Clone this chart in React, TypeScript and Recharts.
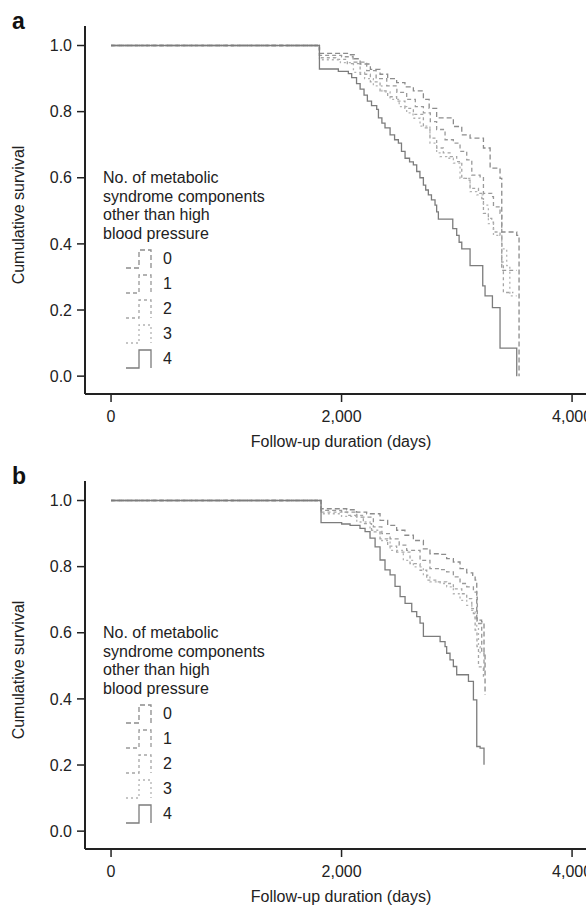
import React from "react"
import { LineChart, Line, XAxis, YAxis } from "recharts"

// Kaplan-Meier steps: [follow-up days, cumulative survival]
// panel a
const a0 = [[0, 1], [1808, 0.976], [2059, 0.972], [2110, 0.96], [2161, 0.944], [2250, 0.928], [2334, 0.913], [2400, 0.9], [2478, 0.888], [2550, 0.875], [2623, 0.863], [2710, 0.837], [2760, 0.81], [2825, 0.781], [2970, 0.755], [3043, 0.73], [3115, 0.72], [3231, 0.69], [3289, 0.629], [3375, 0.598], [3390, 0.436], [3520, 0.426], [3540, 0]]
const a1 = [[0, 1], [1808, 0.97], [2000, 0.966], [2100, 0.95], [2218, 0.924], [2300, 0.9], [2392, 0.878], [2480, 0.858], [2565, 0.837], [2640, 0.815], [2710, 0.796], [2770, 0.77], [2825, 0.746], [2898, 0.715], [2970, 0.705], [3028, 0.68], [3086, 0.654], [3130, 0.608], [3202, 0.603], [3231, 0.553], [3303, 0.543], [3318, 0.512], [3375, 0.492], [3390, 0.32], [3520, 0.32]]
const a2 = [[0, 1], [1808, 0.963], [1950, 0.958], [2050, 0.945], [2161, 0.913], [2250, 0.89], [2334, 0.863], [2400, 0.845], [2478, 0.832], [2550, 0.81], [2623, 0.792], [2710, 0.751], [2767, 0.72], [2825, 0.69], [2883, 0.675], [2941, 0.664], [2999, 0.649], [3043, 0.598], [3101, 0.593], [3115, 0.568], [3188, 0.553], [3217, 0.537], [3231, 0.492], [3274, 0.477], [3303, 0.466], [3318, 0.436], [3375, 0.426], [3390, 0.345], [3404, 0.253], [3491, 0.253]]
const a3 = [[0, 1], [1808, 0.957], [1990, 0.948], [2103, 0.919], [2200, 0.9], [2276, 0.878], [2350, 0.86], [2421, 0.837], [2500, 0.815], [2565, 0.796], [2620, 0.78], [2681, 0.756], [2767, 0.705], [2825, 0.675], [2854, 0.664], [2912, 0.659], [2970, 0.644], [3028, 0.598], [3115, 0.558], [3173, 0.548], [3231, 0.517], [3274, 0.461], [3318, 0.426], [3390, 0.385], [3433, 0.334], [3460, 0.243], [3520, 0.243]]
const a4 = [[0, 1], [1808, 0.929], [1972, 0.922], [2059, 0.915], [2088, 0.903], [2130, 0.885], [2161, 0.868], [2195, 0.85], [2224, 0.832], [2260, 0.818], [2305, 0.807], [2320, 0.781], [2350, 0.765], [2377, 0.751], [2421, 0.73], [2460, 0.715], [2493, 0.705], [2520, 0.68], [2551, 0.659], [2590, 0.648], [2623, 0.639], [2652, 0.619], [2680, 0.6], [2710, 0.578], [2730, 0.563], [2753, 0.548], [2780, 0.533], [2811, 0.517], [2825, 0.497], [2840, 0.475], [2965, 0.446], [2999, 0.426], [3020, 0.405], [3043, 0.385], [3115, 0.334], [3225, 0.273], [3245, 0.243], [3309, 0.207], [3375, 0.085], [3520, 0]]

// panel b
const b0 = [[0, 1], [1822, 0.975], [2045, 0.972], [2130, 0.965], [2218, 0.96], [2334, 0.94], [2400, 0.925], [2478, 0.91], [2550, 0.895], [2623, 0.879], [2710, 0.854], [2767, 0.839], [2855, 0.837], [2912, 0.824], [2970, 0.814], [3028, 0.794], [3086, 0.781], [3138, 0.774], [3159, 0.759], [3173, 0.638], [3215, 0.633], [3236, 0.538], [3245, 0.412]]
const b1 = [[0, 1], [1822, 0.97], [2000, 0.965], [2132, 0.95], [2276, 0.92], [2350, 0.9], [2421, 0.884], [2500, 0.865], [2565, 0.849], [2681, 0.819], [2767, 0.794], [2855, 0.791], [2912, 0.784], [2970, 0.769], [3028, 0.749], [3086, 0.739], [3144, 0.723], [3173, 0.708], [3178, 0.628], [3216, 0.538], [3236, 0.477]]
const b2 = [[0, 1], [1822, 0.965], [2050, 0.955], [2189, 0.93], [2260, 0.905], [2334, 0.884], [2400, 0.862], [2478, 0.844], [2594, 0.809], [2681, 0.789], [2739, 0.759], [2825, 0.754], [2912, 0.749], [2970, 0.733], [3043, 0.718], [3086, 0.703], [3130, 0.673], [3144, 0.658], [3159, 0.608], [3175, 0.558], [3188, 0.497], [3231, 0.467]]
const b3 = [[0, 1], [1822, 0.96], [2000, 0.952], [2132, 0.935], [2247, 0.91], [2334, 0.879], [2421, 0.849], [2536, 0.819], [2623, 0.799], [2710, 0.774], [2767, 0.754], [2855, 0.749], [2912, 0.739], [2970, 0.718], [3028, 0.698], [3086, 0.683], [3130, 0.668], [3144, 0.663], [3159, 0.638], [3173, 0.618], [3188, 0.558], [3202, 0.538]]
const b4 = [[0, 1], [1822, 0.933], [2001, 0.929], [2074, 0.925], [2160, 0.916], [2204, 0.906], [2247, 0.886], [2291, 0.86], [2334, 0.82], [2377, 0.79], [2421, 0.775], [2464, 0.74], [2508, 0.709], [2551, 0.689], [2609, 0.664], [2652, 0.649], [2681, 0.629], [2710, 0.589], [2855, 0.573], [2898, 0.558], [2912, 0.538], [2941, 0.518], [2970, 0.498], [2999, 0.473], [3101, 0.453], [3144, 0.397], [3173, 0.256], [3202, 0.251], [3236, 0.201]]

const groups = ["0", "1", "2", "3", "4"]
const groupDash = ["5 3", "4 3", "3 3", "2 3", undefined]
const groupColor = ["#8c8c8c", "#999999", "#a5a5a5", "#b2b2b2", "#7c7c7c"]
const yTicks = [0, 0.2, 0.4, 0.6, 0.8, 1.0]
const xTicks = [0, 2000, 4000]
const legendTitle = ["No. of metabolic", "syndrome components", "other than high", "blood pressure"]

const INK = "#222"
const FONT = "'Liberation Sans', Arial, sans-serif"
const FS = 16
const X_DOMAIN = [-226, 4225]
const Y_DOMAIN = [-0.054, 1.059]

function Panel({ letter, curves, top }) {
  return (
    <div style={{ position: "absolute", left: 0, top, width: 586, height: 453 }}>
      <LineChart width={640} height={453} margin={{ top: 26, right: 42, bottom: 19, left: 25 }}>
        <XAxis
          xAxisId="frame"
          orientation="top"
          type="number"
          domain={X_DOMAIN}
          allowDataOverflow
          height={0}
          tick={false}
          tickLine={false}
          axisLine={{ stroke: INK, strokeWidth: 2 }}
        />
        <XAxis
          dataKey="t"
          type="number"
          domain={X_DOMAIN}
          allowDataOverflow
          ticks={xTicks}
          tickFormatter={(v) => v.toLocaleString("en-US")}
          height={40}
          tickSize={8}
          tickMargin={9}
          axisLine={{ stroke: INK, strokeWidth: 2 }}
          tickLine={{ stroke: INK, strokeWidth: 1.5 }}
          tick={{ fill: INK, fontSize: FS, fontFamily: FONT }}
          label={{
            content: ({ viewBox }) => (
              <text x={341} y={viewBox.y + 53} textAnchor="middle" fill={INK} fontSize={FS} fontFamily={FONT}>
                Follow-up duration (days)
              </text>
            ),
          }}
        />
        <YAxis
          type="number"
          domain={Y_DOMAIN}
          allowDataOverflow
          ticks={yTicks}
          tickFormatter={(v) => v.toFixed(1)}
          width={60}
          tickSize={8}
          tickMargin={5}
          axisLine={{ stroke: INK, strokeWidth: 2 }}
          tickLine={{ stroke: INK, strokeWidth: 1.5 }}
          tick={{ fill: INK, fontSize: FS, fontFamily: FONT }}
          label={{
            content: ({ viewBox }) => {
              const cx = viewBox.x - 1
              const cy = viewBox.y + viewBox.height / 2 + 5
              return (
                <text x={cx} y={cy} transform={`rotate(-90 ${cx} ${cy})`} textAnchor="middle" fill={INK} fontSize={FS} fontFamily={FONT}>
                  Cumulative survival
                </text>
              )
            },
          }}
        />
        {curves.map((c, i) => (
          <Line
            key={groups[i]}
            data={c.map(([t, s]) => ({ t, s }))}
            dataKey="s"
            type="stepAfter"
            stroke={groupColor[i]}
            strokeWidth={1.3}
            strokeDasharray={groupDash[i]}
            dot={false}
            activeDot={false}
            isAnimationActive={false}
          />
        ))}
      </LineChart>
      <svg width={586} height={453} style={{ position: "absolute", left: 0, top: 0, pointerEvents: "none" }}>
        <text x={12} y={29} fontSize={23} fontWeight="bold" fontFamily={FONT} fill="#111">
          {letter}
        </text>
        {legendTitle.map((line, i) => (
          <text key={line} x={103} y={183 + i * 18.6} fontSize={FS} fontFamily={FONT} fill={INK}>
            {line}
          </text>
        ))}
        {groups.map((g, i) => {
          const cy = 258 + i * 25
          return (
            <g key={g}>
              <path
                d={`M126 ${cy + 10} H139 V${cy - 8} H151 V${cy + 10}`}
                fill="none"
                stroke={groupColor[i]}
                strokeWidth={1.3}
                strokeDasharray={groupDash[i]}
              />
              <text x={163} y={cy + 5.5} fontSize={FS} fontFamily={FONT} fill={INK}>
                {g}
              </text>
            </g>
          )
        })}
      </svg>
    </div>
  )
}

export default function App() {
  return (
    <div style={{ position: "absolute", left: 0, top: 0, width: 586, height: 906, overflow: "hidden", background: "#fff" }}>
      <Panel letter="a" curves={[a0, a1, a2, a3, a4]} top={0} />
      <Panel letter="b" curves={[b0, b1, b2, b3, b4]} top={455} />
    </div>
  )
}
